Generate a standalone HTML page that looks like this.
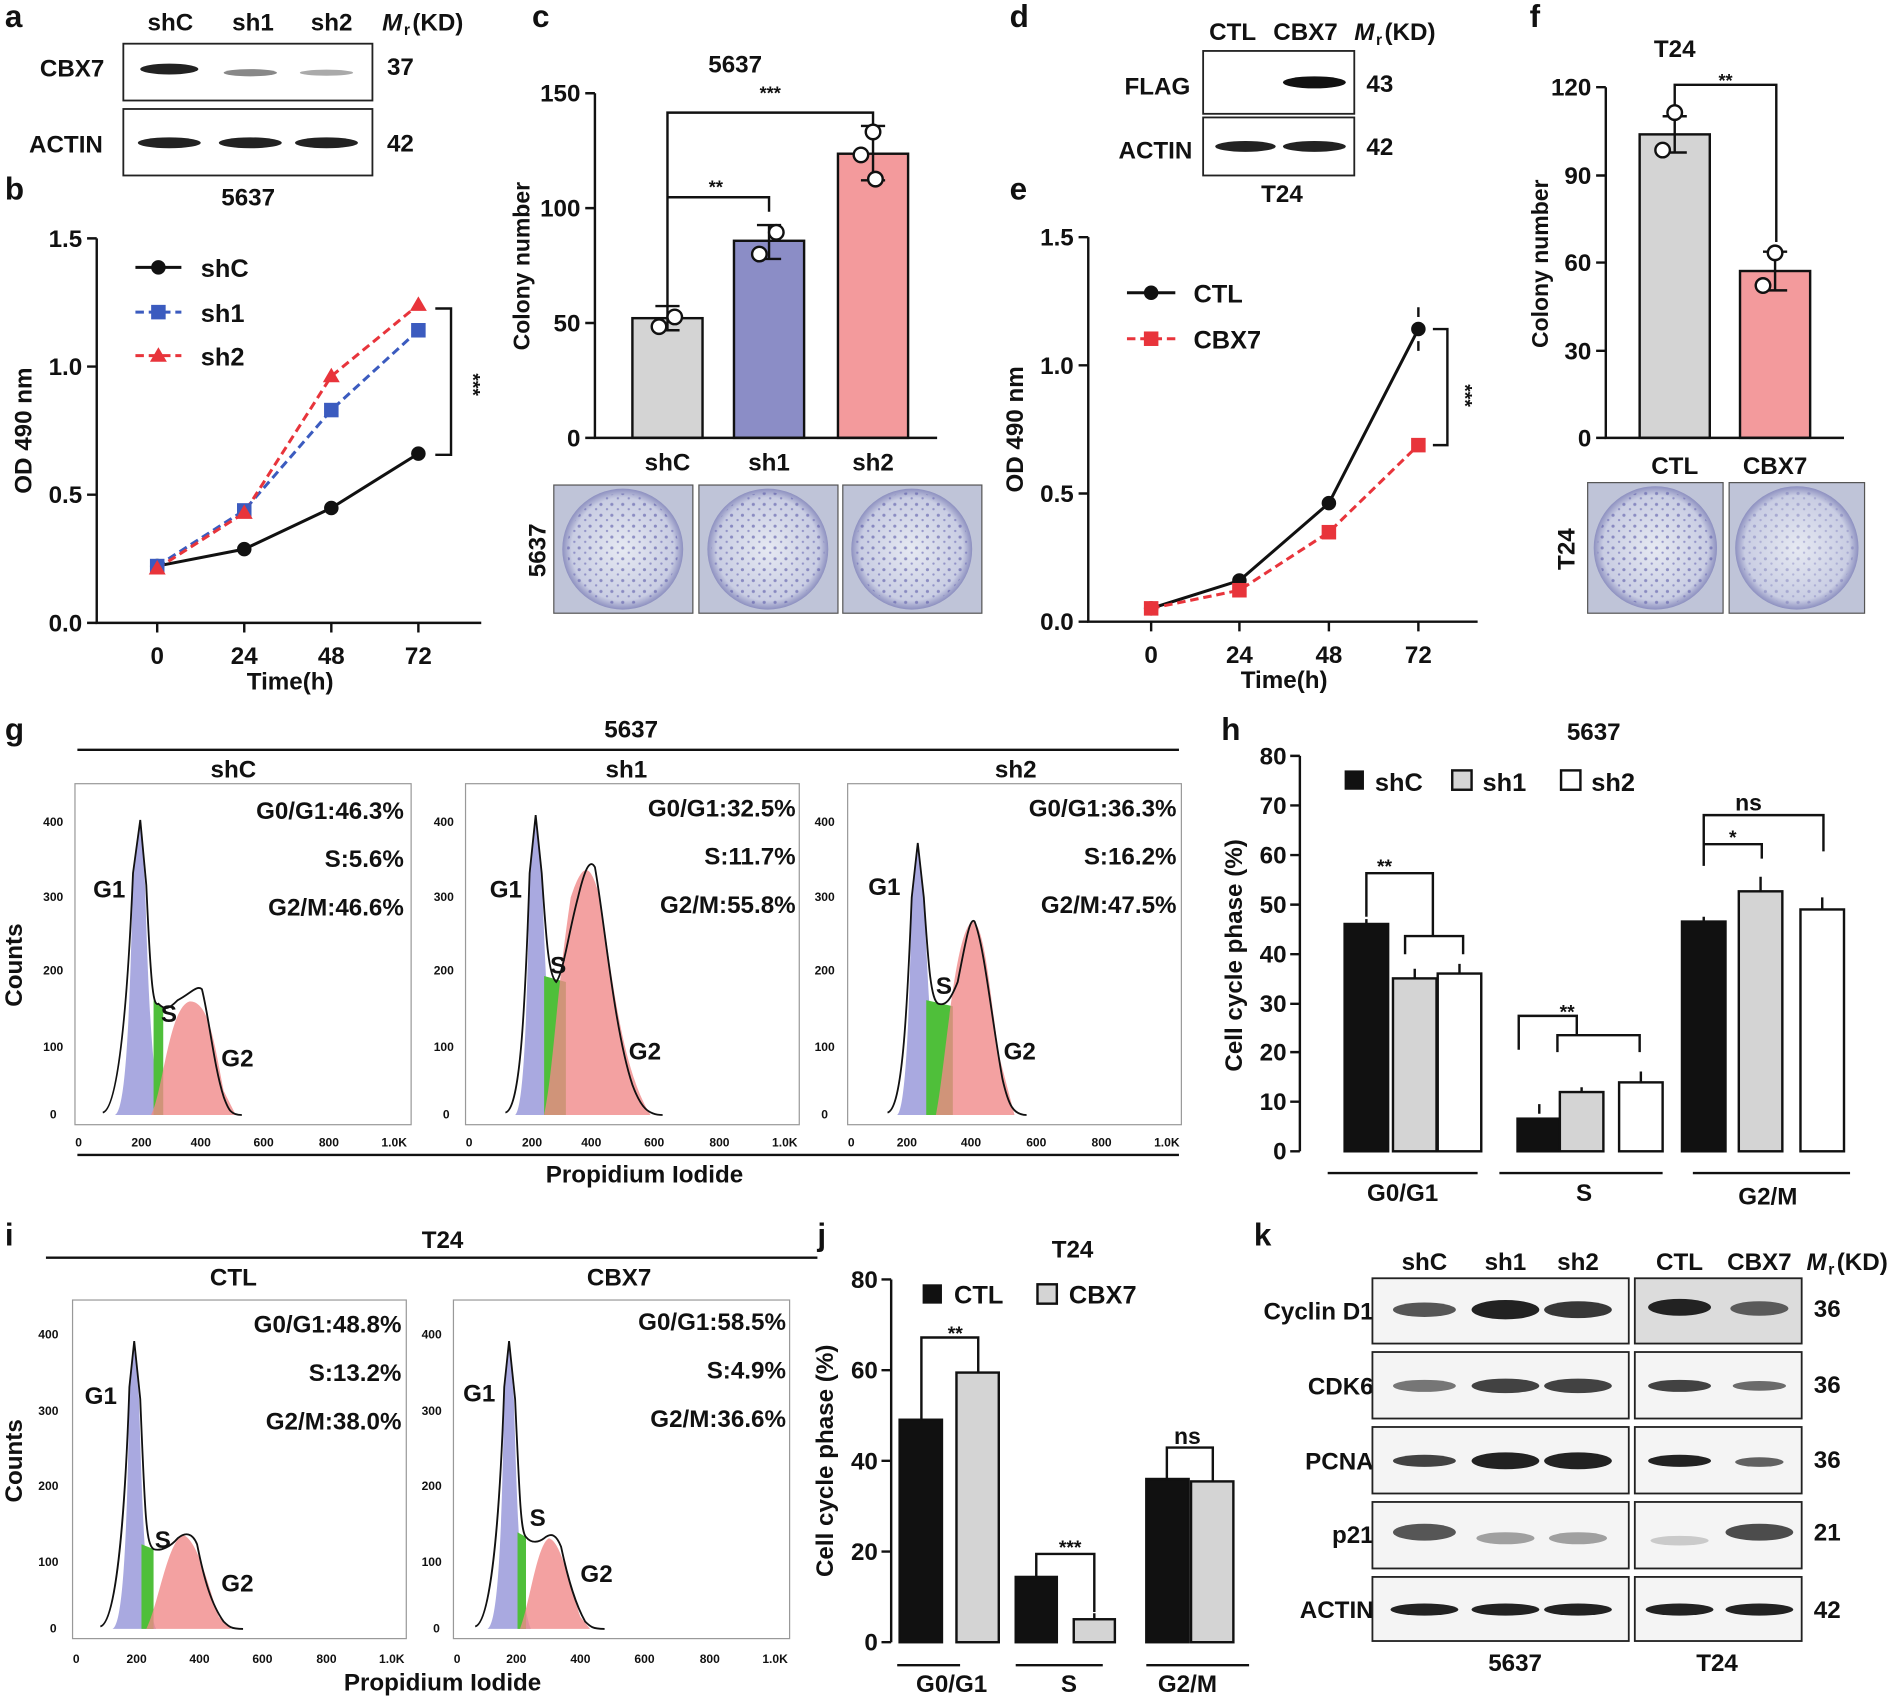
<!DOCTYPE html>
<html><head><meta charset="utf-8"><style>
html,body{margin:0;padding:0;background:#fff}
svg{display:block}
text{font-family:"Liberation Sans",Arial,sans-serif;font-weight:bold;fill:#111}
</style></head><body>
<svg width="1896" height="1698" viewBox="0 0 1568 1404" xmlns="http://www.w3.org/2000/svg">
<defs>
<radialGradient id="plate" cx="50%" cy="50%" r="50%"><stop offset="0" stop-color="#e6e9f2"/><stop offset="0.85" stop-color="#c9cde3"/><stop offset="1" stop-color="#8d90c0"/></radialGradient>
<pattern id="dots" width="9" height="9" patternUnits="userSpaceOnUse"><circle cx="2" cy="3" r="1.3" fill="#5b5aa8"/><circle cx="7" cy="7" r="1" fill="#6a69b3"/></pattern>
</defs>

<g font-size="26"><text x="4" y="22">a</text><text x="4" y="165">b</text><text x="440" y="22">c</text><text x="835" y="22">d</text><text x="835" y="165">e</text><text x="1265" y="22">f</text><text x="4" y="612">g</text><text x="1010" y="612">h</text><text x="4" y="1030">i</text><text x="676" y="1030">j</text><text x="1037" y="1030">k</text></g>

<!-- panel a -->
<g font-size="20">
<text x="122" y="25">shC</text><text x="192" y="25">sh1</text><text x="257" y="25">sh2</text><text x="316" y="25" font-style="italic">M</text><text x="334" y="29" font-size="13">r</text><text x="341" y="25">(KD)</text>
<text x="33" y="63">CBX7</text><text x="24" y="126">ACTIN</text>
<text x="320" y="62">37</text><text x="320" y="125">42</text>
<text x="183" y="170">5637</text>
</g>
<rect x="102" y="36" width="206" height="47" fill="#fff" stroke="#222" stroke-width="1.5"/>
<rect x="102" y="90" width="206" height="55" fill="#fff" stroke="#222" stroke-width="1.5"/>
<ellipse cx="140" cy="57" rx="24" ry="4.5" fill="#222"/><ellipse cx="207" cy="60" rx="22" ry="3" fill="#888"/><ellipse cx="270" cy="60" rx="22" ry="2.5" fill="#aaa"/>
<ellipse cx="140" cy="118" rx="26" ry="4.5" fill="#222"/><ellipse cx="207" cy="118" rx="26" ry="4.5" fill="#222"/><ellipse cx="270" cy="118" rx="26" ry="4.5" fill="#222"/>

<!-- panel b -->
<g stroke="#111" stroke-width="2" fill="none">
<path d="M80 197 V515 H398"/>
<path d="M72 197H80M72 303H80M72 409H80M72 515H80"/>
<path d="M130 515v8M202 515v8M274 515v8M346 515v8"/>
<path d="M360 255h13v121h-13"/>
</g>
<g font-size="20" text-anchor="end"><text x="68" y="204">1.5</text><text x="68" y="310">1.0</text><text x="68" y="416">0.5</text><text x="68" y="522">0.0</text></g>
<g font-size="20" text-anchor="middle"><text x="130" y="549">0</text><text x="202" y="549">24</text><text x="274" y="549">48</text><text x="346" y="549">72</text><text x="240" y="570">Time(h)</text></g>
<text transform="translate(26,356) rotate(-90)" font-size="20" text-anchor="middle">OD 490 nm</text>
<text transform="translate(386,318) rotate(90)" font-size="16" text-anchor="middle">***</text>
<polyline points="130,468 202,454 274,420 346,375" fill="none" stroke="#111" stroke-width="2.5"/>
<polyline points="130,468 202,422 274,339 346,273" fill="none" stroke="#3b5bbf" stroke-width="2.5" stroke-dasharray="7,4"/>
<polyline points="130,470 202,424 274,311 346,252" fill="none" stroke="#e8343b" stroke-width="2.5" stroke-dasharray="7,4"/>
<g fill="#111"><circle cx="130" cy="468" r="6"/><circle cx="202" cy="454" r="6"/><circle cx="274" cy="420" r="6"/><circle cx="346" cy="375" r="6"/></g>
<g fill="#3b5bbf"><rect x="124" y="462" width="12" height="12"/><rect x="196" y="416" width="12" height="12"/><rect x="268" y="333" width="12" height="12"/><rect x="340" y="267" width="12" height="12"/></g>
<g fill="#e8343b"><path d="M130 463l7 12h-14z"/><path d="M202 417l7 12h-14z"/><path d="M274 304l7 12h-14z"/><path d="M346 245l7 12h-14z"/></g>
<line x1="112" y1="221" x2="150" y2="221" stroke="#111" stroke-width="2.5"/><circle cx="131" cy="221" r="6" fill="#111"/>
<line x1="112" y1="258" x2="150" y2="258" stroke="#3b5bbf" stroke-width="2.5" stroke-dasharray="7,4"/><rect x="125" y="252" width="12" height="12" fill="#3b5bbf"/>
<line x1="112" y1="294" x2="150" y2="294" stroke="#e8343b" stroke-width="2.5" stroke-dasharray="7,4"/><path d="M131 287l7 12h-14z" fill="#e8343b"/>
<g font-size="21"><text x="166" y="229">shC</text><text x="166" y="266">sh1</text><text x="166" y="302">sh2</text></g>

<!-- panel c -->
<text x="608" y="60" font-size="20" text-anchor="middle">5637</text>
<rect x="523" y="263" width="58" height="99" fill="#d4d4d4" stroke="#111" stroke-width="2"/>
<rect x="607" y="199" width="58" height="163" fill="#8b8dc6" stroke="#111" stroke-width="2"/>
<rect x="693" y="127" width="58" height="235" fill="#f39a9c" stroke="#111" stroke-width="2"/>
<g stroke="#111" stroke-width="2" fill="none">
<path d="M492 77V362H775"/><path d="M484 77h8M484 172h8M484 267h8M484 362h8"/>
<path d="M552 253v-160h170v16"/><path d="M552 163h84v12"/>
<path d="M542 253h20M552 253v20M542 273h20"/><path d="M626 186h20M636 186v28M626 214h20"/><path d="M712 104h20M722 104v45M712 149h20"/>
</g>
<g fill="#fff" stroke="#111" stroke-width="2"><circle cx="545" cy="270" r="6"/><circle cx="558" cy="262" r="6"/><circle cx="628" cy="210" r="6"/><circle cx="642" cy="192" r="6"/><circle cx="722" cy="109" r="6"/><circle cx="712" cy="128" r="6"/><circle cx="724" cy="148" r="6"/></g>
<g font-size="20" text-anchor="end"><text x="480" y="84">150</text><text x="480" y="179">100</text><text x="480" y="274">50</text><text x="480" y="369">0</text></g>
<g font-size="20" text-anchor="middle"><text x="552" y="389">shC</text><text x="636" y="389">sh1</text><text x="722" y="389">sh2</text></g>
<text transform="translate(438,220) rotate(-90)" font-size="19" text-anchor="middle">Colony number</text>
<text x="637" y="82" font-size="15" text-anchor="middle">***</text><text x="592" y="160" font-size="15" text-anchor="middle">**</text>
<text transform="translate(451,455) rotate(-90)" font-size="20" text-anchor="middle">5637</text>
<g stroke="#555" stroke-width="1">
<rect x="458" y="401" width="115" height="106" fill="#bfc4d8"/><rect x="578" y="401" width="115" height="106" fill="#bfc4d8"/><rect x="697" y="401" width="115" height="106" fill="#bfc4d8"/>
<rect x="1313" y="399" width="112" height="108" fill="#bfc4d8"/><rect x="1430" y="399" width="112" height="108" fill="#bfc4d8"/>
</g>
<g fill="url(#plate)"><circle cx="515" cy="454" r="50"/><circle cx="635" cy="454" r="50"/><circle cx="754" cy="454" r="50"/><circle cx="1369" cy="453" r="51"/><circle cx="1486" cy="453" r="51"/></g>
<g fill="url(#dots)" opacity="0.6"><circle cx="515" cy="454" r="46"/><circle cx="635" cy="454" r="47"/><circle cx="754" cy="454" r="47"/><circle cx="1369" cy="453" r="48"/></g>
<g fill="url(#dots)" opacity="0.35"><circle cx="1486" cy="453" r="47"/></g>

<!-- panel d -->
<g font-size="20"><text x="1000" y="33">CTL</text><text x="1053" y="33">CBX7</text><text x="1120" y="33" font-style="italic">M</text><text x="1138" y="37" font-size="13">r</text><text x="1145" y="33">(KD)</text>
<text x="930" y="78">FLAG</text><text x="925" y="131">ACTIN</text><text x="1130" y="76">43</text><text x="1130" y="128">42</text><text x="1043" y="167">T24</text></g>
<rect x="995" y="42" width="125" height="52" fill="#fff" stroke="#222" stroke-width="1.5"/>
<rect x="995" y="97" width="125" height="48" fill="#fff" stroke="#222" stroke-width="1.5"/>
<ellipse cx="1087" cy="68" rx="26" ry="5" fill="#111"/>
<ellipse cx="1030" cy="121" rx="25" ry="4.5" fill="#222"/><ellipse cx="1087" cy="121" rx="26" ry="4.5" fill="#222"/>

<!-- panel e -->
<g stroke="#111" stroke-width="2" fill="none">
<path d="M900 196V514H1222"/><path d="M892 196h8M892 302h8M892 408h8M892 514h8"/>
<path d="M952 514v8M1025 514v8M1099 514v8M1173 514v8"/>
<path d="M1185 272h12v96h-12"/>
</g>
<g font-size="20" text-anchor="end"><text x="888" y="203">1.5</text><text x="888" y="309">1.0</text><text x="888" y="415">0.5</text><text x="888" y="521">0.0</text></g>
<g font-size="20" text-anchor="middle"><text x="952" y="548">0</text><text x="1025" y="548">24</text><text x="1099" y="548">48</text><text x="1173" y="548">72</text><text x="1062" y="569">Time(h)</text></g>
<text transform="translate(846,355) rotate(-90)" font-size="20" text-anchor="middle">OD 490 nm</text>
<text transform="translate(1206,327) rotate(90)" font-size="16" text-anchor="middle">***</text>
<polyline points="952,503 1025,480 1099,416 1173,272" fill="none" stroke="#111" stroke-width="2.5"/>
<polyline points="952,503 1025,488 1099,440 1173,368" fill="none" stroke="#e8343b" stroke-width="2.5" stroke-dasharray="7,4"/>
<g fill="#111"><circle cx="952" cy="503" r="6"/><circle cx="1025" cy="480" r="6"/><circle cx="1099" cy="416" r="6"/><circle cx="1173" cy="272" r="6"/></g>
<path d="M1173 262v-8M1173 282v8" stroke="#111" stroke-width="2"/>
<g fill="#e8343b"><rect x="946" y="497" width="12" height="12"/><rect x="1019" y="482" width="12" height="12"/><rect x="1093" y="434" width="12" height="12"/><rect x="1167" y="362" width="12" height="12"/></g>
<line x1="932" y1="242" x2="972" y2="242" stroke="#111" stroke-width="2.5"/><circle cx="952" cy="242" r="6" fill="#111"/>
<line x1="932" y1="280" x2="972" y2="280" stroke="#e8343b" stroke-width="2.5" stroke-dasharray="7,4"/><rect x="946" y="274" width="12" height="12" fill="#e8343b"/>
<g font-size="21"><text x="987" y="250">CTL</text><text x="987" y="288">CBX7</text></g>

<!-- panel f -->
<text x="1385" y="47" font-size="20" text-anchor="middle">T24</text>
<rect x="1356" y="111" width="58" height="251" fill="#d4d4d4" stroke="#111" stroke-width="2"/>
<rect x="1439" y="224" width="58" height="138" fill="#f39a9c" stroke="#111" stroke-width="2"/>
<g stroke="#111" stroke-width="2" fill="none">
<path d="M1328 72V362H1525"/><path d="M1320 72h8M1320 145h8M1320 217h8M1320 290h8M1320 362h8"/>
<path d="M1385 100V70h84v130"/>
<path d="M1375 96h20M1385 96v30M1375 126h20"/><path d="M1458 208h20M1468 208v32M1458 240h20"/>
</g>
<g fill="#fff" stroke="#111" stroke-width="2"><circle cx="1375" cy="124" r="6"/><circle cx="1385" cy="93" r="6"/><circle cx="1458" cy="236" r="6"/><circle cx="1468" cy="209" r="6"/></g>
<g font-size="20" text-anchor="end"><text x="1316" y="79">120</text><text x="1316" y="152">90</text><text x="1316" y="224">60</text><text x="1316" y="297">30</text><text x="1316" y="369">0</text></g>
<g font-size="20" text-anchor="middle"><text x="1385" y="392">CTL</text><text x="1468" y="392">CBX7</text></g>
<text transform="translate(1280,218) rotate(-90)" font-size="19" text-anchor="middle">Colony number</text>
<text x="1427" y="72" font-size="15" text-anchor="middle">**</text>
<text transform="translate(1302,454) rotate(-90)" font-size="20" text-anchor="middle">T24</text>

<!-- panel g -->
<text x="522" y="610" font-size="20" text-anchor="middle">5637</text>
<line x1="64" y1="620" x2="975" y2="620" stroke="#111" stroke-width="2"/>
<g font-size="20" text-anchor="middle"><text x="193" y="643">shC</text><text x="518" y="643">sh1</text><text x="840" y="643">sh2</text><text x="533" y="978">Propidium Iodide</text></g>
<line x1="64" y1="955" x2="975" y2="955" stroke="#111" stroke-width="2"/>
<text transform="translate(18,798) rotate(-90)" font-size="20" text-anchor="middle">Counts</text>

<g transform="translate(65,922)">
<rect x="-3" y="-274" width="278" height="282" fill="none" stroke="#999" stroke-width="1"/>
<path d="M30 0C38-3 42-60 45-200L51-244L55-190C58-80 62-20 70 0Z" fill="#8c8cd6" opacity="0.75"/>
<path d="M62 0V-95L70-88V0Z" fill="#4fbf3a"/>
<path d="M60 0C70-20 75-90 92-94C108-94 112-60 120-20L130 0Z" fill="#f08a8a" opacity="0.8"/>
<path d="M20 -2C32-5 40-80 45-200L51-244L56-190C60-100 62-90 66-92C72-86 75-88 82-95C92-100 98-108 102-104C108-80 112-40 120-15C124-4 126 0 135 0" fill="none" stroke="#111" stroke-width="1.5"/>
</g>
<g transform="translate(388,922)">
<rect x="-3" y="-274" width="276" height="282" fill="none" stroke="#999" stroke-width="1"/>
<path d="M38 0C45-5 48-80 50-200L55-248L60-200C63-120 66-40 74 0Z" fill="#8c8cd6" opacity="0.75"/>
<path d="M62 0V-115L80-110V0Z" fill="#4fbf3a"/>
<path d="M62 0C70-40 72-100 84-180C94-210 100-210 108-180C118-120 125-40 150 0Z" fill="#f08a8a" opacity="0.8"/>
<path d="M30 -2C42-5 46-80 50-200L55-248L60-200C64-140 66-115 72-110C78-118 82-150 90-180C96-205 100-212 104-205C112-160 120-70 135-25C142-6 148 0 160 0" fill="none" stroke="#111" stroke-width="1.5"/>
</g>
<g transform="translate(704,922)">
<rect x="-3" y="-274" width="276" height="282" fill="none" stroke="#999" stroke-width="1"/>
<path d="M38 0C45-5 48-80 50-180L55-225L60-180C63-120 66-40 74 0Z" fill="#8c8cd6" opacity="0.75"/>
<path d="M62 0V-95L84-90V0Z" fill="#4fbf3a"/>
<path d="M70 0C78-40 85-150 100-160C110-160 115-100 122-50L135 0Z" fill="#f08a8a" opacity="0.8"/>
<path d="M30 -2C42-5 46-80 50-180L55-225L60-180C64-120 66-95 72-92C78-90 82-95 88-110C94-140 98-165 102-160C110-140 116-80 125-30C130-8 134 0 145 0" fill="none" stroke="#111" stroke-width="1.5"/>
</g>
<g font-size="10" font-weight="normal" text-anchor="middle">
<text x="65" y="948">0</text><text x="117" y="948">200</text><text x="166" y="948">400</text><text x="218" y="948">600</text><text x="272" y="948">800</text><text x="326" y="948">1.0K</text>
<text x="388" y="948">0</text><text x="440" y="948">200</text><text x="489" y="948">400</text><text x="541" y="948">600</text><text x="595" y="948">800</text><text x="649" y="948">1.0K</text>
<text x="704" y="948">0</text><text x="750" y="948">200</text><text x="803" y="948">400</text><text x="857" y="948">600</text><text x="911" y="948">800</text><text x="965" y="948">1.0K</text>
<text x="44" y="925">0</text><text x="44" y="869">100</text><text x="44" y="806">200</text><text x="44" y="745">300</text><text x="44" y="683">400</text>
<text x="369" y="925">0</text><text x="367" y="869">100</text><text x="367" y="806">200</text><text x="367" y="745">300</text><text x="367" y="683">400</text>
<text x="682" y="925">0</text><text x="682" y="869">100</text><text x="682" y="806">200</text><text x="682" y="745">300</text><text x="682" y="683">400</text>
</g>
<g font-size="20" text-anchor="end">
<text x="334" y="677">G0/G1:46.3%</text><text x="334" y="717">S:5.6%</text><text x="334" y="757">G2/M:46.6%</text>
<text x="658" y="675">G0/G1:32.5%</text><text x="658" y="715">S:11.7%</text><text x="658" y="755">G2/M:55.8%</text>
<text x="973" y="675">G0/G1:36.3%</text><text x="973" y="715">S:16.2%</text><text x="973" y="755">G2/M:47.5%</text>
</g>
<g font-size="20"><text x="77" y="742">G1</text><text x="133" y="845">S</text><text x="183" y="882">G2</text>
<text x="405" y="742">G1</text><text x="455" y="805">S</text><text x="520" y="876">G2</text>
<text x="718" y="740">G1</text><text x="774" y="822">S</text><text x="830" y="876">G2</text></g>

<!-- panel h -->
<text x="1318" y="612" font-size="20" text-anchor="middle">5637</text>
<g stroke="#111" stroke-width="2">
<rect x="1112" y="764" width="36" height="188" fill="#111"/><rect x="1152" y="809" width="36" height="143" fill="#d4d4d4"/><rect x="1189" y="805" width="36" height="147" fill="#fff"/>
<rect x="1255" y="925" width="36" height="27" fill="#111"/><rect x="1290" y="903" width="36" height="49" fill="#d4d4d4"/><rect x="1339" y="895" width="36" height="57" fill="#fff"/>
<rect x="1391" y="762" width="36" height="190" fill="#111"/><rect x="1438" y="737" width="36" height="215" fill="#d4d4d4"/><rect x="1489" y="752" width="36" height="200" fill="#fff"/>
</g>
<g stroke="#111" stroke-width="2" fill="none">
<path d="M1075 625V952"/><path d="M1067 625h8M1067 666h8M1067 707h8M1067 748h8M1067 789h8M1067 830h8M1067 870h8M1067 911h8M1067 952h8"/>
<path d="M1098 970H1222M1240 970H1375M1400 970H1530"/>
<path d="M1130 758v-36h55v52M1162 789v-15h48v15"/>
<path d="M1130 764v-4M1170 809v-8M1207 805v-8"/>
<path d="M1273 921v-8M1308 903v-4M1357 895v-9"/>
<path d="M1256 868v-28h48v16M1288 870v-14h68v14"/>
<path d="M1409 762v-4M1456 737v-12M1507 752v-10"/>
<path d="M1409 716v-18h48v12M1409 698v-24h99v30"/>
</g>
<g font-size="20" text-anchor="end"><text x="1064" y="632">80</text><text x="1064" y="673">70</text><text x="1064" y="714">60</text><text x="1064" y="755">50</text><text x="1064" y="796">40</text><text x="1064" y="837">30</text><text x="1064" y="877">20</text><text x="1064" y="918">10</text><text x="1064" y="959">0</text></g>
<text transform="translate(1027,790) rotate(-90)" font-size="20" text-anchor="middle">Cell cycle phase (%)</text>
<g font-size="20" text-anchor="middle"><text x="1160" y="993">G0/G1</text><text x="1310" y="993">S</text><text x="1462" y="996">G2/M</text></g>
<g font-size="16" text-anchor="middle"><text x="1145" y="722">**</text><text x="1296" y="842">**</text><text x="1433" y="698">*</text><text x="1446" y="670" font-size="19" font-weight="normal">ns</text></g>
<rect x="1112" y="637" width="16" height="16" fill="#111"/><rect x="1201" y="637" width="16" height="16" fill="#d4d4d4" stroke="#111" stroke-width="2"/><rect x="1291" y="637" width="16" height="16" fill="#fff" stroke="#111" stroke-width="2"/>
<g font-size="21" font-weight="normal"><text x="1137" y="654">shC</text><text x="1226" y="654">sh1</text><text x="1316" y="654">sh2</text></g>

<!-- panel i -->
<text x="366" y="1032" font-size="20" text-anchor="middle">T24</text>
<line x1="38" y1="1040" x2="676" y2="1040" stroke="#111" stroke-width="2"/>
<g font-size="20" text-anchor="middle"><text x="193" y="1063">CTL</text><text x="512" y="1063">CBX7</text><text x="366" y="1398">Propidium Iodide</text></g>
<text transform="translate(18,1208) rotate(-90)" font-size="20" text-anchor="middle">Counts</text>
<g transform="translate(63,1347)">
<rect x="-3" y="-272" width="276" height="280" fill="none" stroke="#999" stroke-width="1"/>
<path d="M30 0C38-3 42-60 44-200L48-238L52-190C55-80 58-20 66 0Z" fill="#8c8cd6" opacity="0.75"/>
<path d="M54 0V-70L64-66V0Z" fill="#4fbf3a"/>
<path d="M58 0C68-20 75-70 88-78C100-74 108-40 118-10L128 0Z" fill="#f08a8a" opacity="0.8"/>
<path d="M20 -2C32-5 40-80 44-200L48-238L53-190C57-90 58-70 64-66C70-64 78-68 84-75C90-80 96-80 100-70C106-40 112-20 122-6C126 -2 128 0 138 0" fill="none" stroke="#111" stroke-width="1.5"/>
</g>
<g transform="translate(378,1347)">
<rect x="-3" y="-272" width="278" height="280" fill="none" stroke="#999" stroke-width="1"/>
<path d="M25 0C33-3 37-60 39-200L43-238L47-190C50-80 53-20 61 0Z" fill="#8c8cd6" opacity="0.75"/>
<path d="M50 0V-80L57-76V0Z" fill="#4fbf3a"/>
<path d="M52 0C60-20 66-70 76-75C86-72 92-40 102-10L110 0Z" fill="#f08a8a" opacity="0.8"/>
<path d="M15 -2C27-5 35-80 39-200L43-238L48-190C52-100 53-80 57-76C62-70 68-72 72-75C78-80 82-78 86-68C92-40 98-20 106-6C110 -2 112 0 122 0" fill="none" stroke="#111" stroke-width="1.5"/>
</g>
<g font-size="10" font-weight="normal" text-anchor="middle">
<text x="63" y="1375">0</text><text x="113" y="1375">200</text><text x="165" y="1375">400</text><text x="217" y="1375">600</text><text x="270" y="1375">800</text><text x="324" y="1375">1.0K</text>
<text x="378" y="1375">0</text><text x="427" y="1375">200</text><text x="480" y="1375">400</text><text x="533" y="1375">600</text><text x="587" y="1375">800</text><text x="641" y="1375">1.0K</text>
<text x="44" y="1350">0</text><text x="40" y="1295">100</text><text x="40" y="1232">200</text><text x="40" y="1170">300</text><text x="40" y="1107">400</text>
<text x="361" y="1350">0</text><text x="357" y="1295">100</text><text x="357" y="1232">200</text><text x="357" y="1170">300</text><text x="357" y="1107">400</text>
</g>
<g font-size="20" text-anchor="end">
<text x="332" y="1102">G0/G1:48.8%</text><text x="332" y="1142">S:13.2%</text><text x="332" y="1182">G2/M:38.0%</text>
<text x="650" y="1100">G0/G1:58.5%</text><text x="650" y="1140">S:4.9%</text><text x="650" y="1180">G2/M:36.6%</text>
</g>
<g font-size="20"><text x="70" y="1161">G1</text><text x="128" y="1280">S</text><text x="183" y="1316">G2</text>
<text x="383" y="1159">G1</text><text x="438" y="1262">S</text><text x="480" y="1308">G2</text></g>

<!-- panel j -->
<text x="887" y="1040" font-size="20" text-anchor="middle">T24</text>
<g stroke="#111" stroke-width="2">
<rect x="744" y="1174" width="35" height="184" fill="#111"/><rect x="791" y="1135" width="35" height="223" fill="#d4d4d4"/>
<rect x="840" y="1304" width="34" height="54" fill="#111"/><rect x="888" y="1339" width="34" height="19" fill="#d4d4d4"/>
<rect x="948" y="1223" width="35" height="135" fill="#111"/><rect x="985" y="1225" width="35" height="133" fill="#d4d4d4"/>
</g>
<g stroke="#111" stroke-width="2" fill="none">
<path d="M737 1058V1358"/><path d="M729 1058h8M729 1133h8M729 1208h8M729 1283h8M729 1358h8"/>
<path d="M742 1377h52M840 1377h72M948 1377h85"/>
<path d="M762 1170v-64h47v22M762 1174v-6M809 1135v-9"/>
<path d="M857 1300v-15h48v48M857 1304v-6M905 1339v-5"/>
<path d="M965 1219v-22h38v22M965 1223v-8M1003 1225v-6"/>
</g>
<g font-size="20" text-anchor="end"><text x="726" y="1065">80</text><text x="726" y="1140">60</text><text x="726" y="1215">40</text><text x="726" y="1290">20</text><text x="726" y="1365">0</text></g>
<text transform="translate(689,1208) rotate(-90)" font-size="20" text-anchor="middle">Cell cycle phase (%)</text>
<g font-size="20" text-anchor="middle"><text x="787" y="1399">G0/G1</text><text x="884" y="1399">S</text><text x="982" y="1399">G2/M</text></g>
<g font-size="16" text-anchor="middle"><text x="790" y="1108">**</text><text x="885" y="1285">***</text><text x="982" y="1194" font-size="19" font-weight="normal">ns</text></g>
<rect x="763" y="1062" width="16" height="16" fill="#111"/><rect x="858" y="1062" width="16" height="16" fill="#d4d4d4" stroke="#111" stroke-width="2"/>
<g font-size="21" font-weight="normal"><text x="789" y="1078">CTL</text><text x="884" y="1078">CBX7</text></g>

<!-- panel k -->
<g font-size="20" text-anchor="middle"><text x="1178" y="1050">shC</text><text x="1245" y="1050">sh1</text><text x="1305" y="1050">sh2</text><text x="1389" y="1050">CTL</text><text x="1455" y="1050">CBX7</text></g>
<g font-size="20"><text x="1494" y="1050" font-style="italic">M</text><text x="1512" y="1054" font-size="13">r</text><text x="1519" y="1050">(KD)</text></g>
<g font-size="20" text-anchor="end"><text x="1136" y="1091">Cyclin D1</text><text x="1136" y="1153">CDK6</text><text x="1136" y="1215">PCNA</text><text x="1136" y="1276">p21</text><text x="1136" y="1338">ACTIN</text></g>
<g font-size="20"><text x="1500" y="1089">36</text><text x="1500" y="1152">36</text><text x="1500" y="1214">36</text><text x="1500" y="1274">21</text><text x="1500" y="1338">42</text>
<text x="1253" y="1382" text-anchor="middle">5637</text><text x="1420" y="1382" text-anchor="middle">T24</text></g>
<g stroke="#222" stroke-width="1.5">
<rect x="1135" y="1057" width="212" height="54" fill="#f4f4f4"/><rect x="1352" y="1057" width="138" height="54" fill="#dcdcdc"/>
<rect x="1135" y="1118" width="212" height="55" fill="#f4f4f4"/><rect x="1352" y="1118" width="138" height="55" fill="#f4f4f4"/>
<rect x="1135" y="1180" width="212" height="55" fill="#f4f4f4"/><rect x="1352" y="1180" width="138" height="55" fill="#f4f4f4"/>
<rect x="1135" y="1242" width="212" height="55" fill="#f4f4f4"/><rect x="1352" y="1242" width="138" height="55" fill="#f4f4f4"/>
<rect x="1135" y="1304" width="212" height="53" fill="#f4f4f4"/><rect x="1352" y="1304" width="138" height="53" fill="#f4f4f4"/>
</g>
<g fill="#222">
<ellipse cx="1178" cy="1083" rx="26" ry="6" opacity="0.75"/><ellipse cx="1245" cy="1083" rx="28" ry="8"/><ellipse cx="1305" cy="1083" rx="28" ry="7" opacity="0.9"/><ellipse cx="1389" cy="1081" rx="26" ry="7"/><ellipse cx="1455" cy="1082" rx="24" ry="6" opacity="0.7"/>
<ellipse cx="1178" cy="1146" rx="26" ry="5" opacity="0.6"/><ellipse cx="1245" cy="1146" rx="28" ry="6" opacity="0.85"/><ellipse cx="1305" cy="1146" rx="28" ry="6" opacity="0.85"/><ellipse cx="1389" cy="1146" rx="26" ry="5" opacity="0.85"/><ellipse cx="1455" cy="1146" rx="22" ry="4" opacity="0.65"/>
<ellipse cx="1178" cy="1208" rx="26" ry="5" opacity="0.85"/><ellipse cx="1245" cy="1208" rx="28" ry="7"/><ellipse cx="1305" cy="1208" rx="28" ry="7"/><ellipse cx="1389" cy="1208" rx="26" ry="5"/><ellipse cx="1455" cy="1209" rx="20" ry="4" opacity="0.7"/>
<ellipse cx="1178" cy="1267" rx="26" ry="7" opacity="0.75"/><ellipse cx="1245" cy="1272" rx="24" ry="5" opacity="0.4"/><ellipse cx="1305" cy="1272" rx="24" ry="5" opacity="0.4"/><ellipse cx="1389" cy="1274" rx="24" ry="4" opacity="0.2"/><ellipse cx="1455" cy="1267" rx="28" ry="7" opacity="0.8"/>
<ellipse cx="1178" cy="1331" rx="28" ry="5"/><ellipse cx="1245" cy="1331" rx="28" ry="5"/><ellipse cx="1305" cy="1331" rx="28" ry="5"/><ellipse cx="1389" cy="1331" rx="28" ry="5"/><ellipse cx="1455" cy="1331" rx="28" ry="5"/>
</g>
</svg>
</body></html>
